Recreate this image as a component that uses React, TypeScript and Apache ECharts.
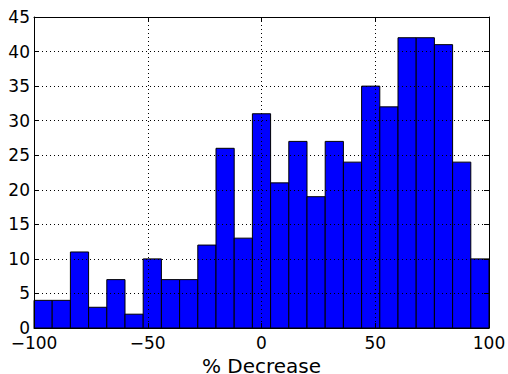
import React, { useEffect, useRef } from "react";
import * as echarts from "echarts";

const binStarts = [-100, -92, -84, -76, -68, -60, -52, -44, -36, -28, -20, -12, -4, 4, 12, 20, 28, 36, 44, 52, 60, 68, 76, 84, 92];
const binWidth = 8;
const counts = [4, 4, 11, 3, 7, 2, 10, 7, 7, 12, 26, 13, 31, 21, 27, 19, 27, 24, 35, 32, 42, 42, 41, 24, 10];
const xLabel = "% Decrease";

const FONT = "DejaVu Sans";

export default function App() {
  const ref = useRef<HTMLDivElement>(null);
  useEffect(() => {
    const chart = echarts.init(ref.current!, null, { renderer: "svg" });
    const data = binStarts.map((s, i) => [s, s + binWidth, counts[i]]);
    const minus = (v: number) => String(v).replace("-", "\u2212");
    const hiddenAxisCommon = {
      z: 10,
      axisLabel: { show: false },
      axisLine: { show: true, onZero: false, lineStyle: { color: "#000", width: 1 } },
      axisTick: { show: true, inside: true, length: 5, lineStyle: { color: "#000" } },
      splitLine: { show: false },
    };
    chart.setOption({
      animation: false,
      grid: { left: 34, right: 19, top: 17, bottom: 46, containLabel: false, outerBoundsMode: "none" },
      xAxis: [
        {
          type: "value",
          z: 10,
          min: -100,
          max: 100,
          interval: 50,
          name: xLabel,
          nameLocation: "middle",
          nameGap: 25,
          nameTextStyle: { fontFamily: FONT, fontSize: 20, lineHeight: 20, color: "#000" },
          axisLabel: { fontFamily: FONT, fontSize: 17, lineHeight: 17, color: "#000", margin: 6, formatter: minus },
          axisLine: { show: true, onZero: false, lineStyle: { color: "#000", width: 1 } },
          axisTick: { show: true, inside: true, length: 5, lineStyle: { color: "#000" } },
          splitLine: { show: true, lineStyle: { color: "#000", type: [1, 3], width: 1 } },
        },
        { type: "value", position: "top", min: -100, max: 100, interval: 50, ...hiddenAxisCommon },
      ],
      yAxis: [
        {
          type: "value",
          z: 10,
          min: 0,
          max: 45,
          interval: 5,
          axisLabel: { fontFamily: FONT, fontSize: 17, lineHeight: 17, color: "#000", margin: 4 },
          axisLine: { show: true, onZero: false, lineStyle: { color: "#000", width: 1 } },
          axisTick: { show: true, inside: true, length: 5, lineStyle: { color: "#000" } },
          splitLine: { show: true, lineStyle: { color: "#000", type: [1, 3], width: 1 } },
        },
        { type: "value", position: "right", min: 0, max: 45, interval: 5, ...hiddenAxisCommon },
      ],
      series: [
        {
          type: "custom",
          xAxisIndex: 0,
          yAxisIndex: 0,
          data,
          encode: { x: [0, 1], y: 2 },
          renderItem: (params: any, api: any) => {
            const p0 = api.coord([api.value(0), api.value(2)]);
            const p1 = api.coord([api.value(1), 0]);
            return {
              type: "rect",
              shape: { x: p0[0], y: p0[1], width: p1[0] - p0[0], height: p1[1] - p0[1] },
              style: { fill: "#0000ff", stroke: "#000", lineWidth: 1 },
            };
          },
          z: 2,
        },
      ],
    });
    return () => chart.dispose();
  }, []);
  return <div ref={ref} style={{ width: 508, height: 374, position: "absolute", left: 0, top: 0 }} />;
}
